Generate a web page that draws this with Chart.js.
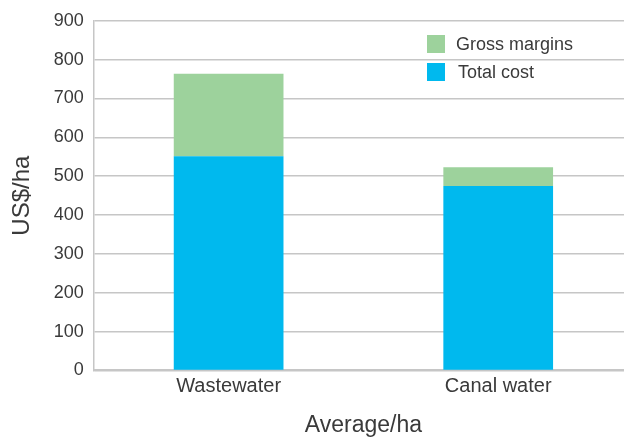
<!DOCTYPE html>
<html>
<head>
<meta charset="utf-8">
<script src="https://cdn.jsdelivr.net/npm/chart.js@4/dist/chart.umd.min.js"></script>
<style>
  html, body { margin: 0; padding: 0; background: #fff; }
  #wrap { width: 624px; height: 437px; overflow: hidden; }
</style>
</head>
<body>
<div id="wrap"><canvas id="cost-chart" width="640" height="440"></canvas></div>
<script>
/**
 * Data
 */
const categories = ['Wastewater', 'Canal water'];
const totalCost = [551, 475];
const grossMargins = [213, 48];
const yTicks = [0, 100, 200, 300, 400, 500, 600, 700, 800, 900];

const FONT = '"Liberation Sans", Arial, sans-serif';
const TEXT = '#3a3a3a';
const GRID = '#c6c6c6';

/**
 * Legend drawn inside the plot, top right, Gross margins above Total cost
 */
const boxLegend = {
    id: 'boxLegend',
    afterDraw(chart) {
        const c = chart.ctx;
        const sets = chart.data.datasets.slice().reverse();
        c.save();
        c.font = '18px ' + FONT;
        c.textBaseline = 'middle';
        sets.forEach((ds, i) => {
            const y = 35 + i * 28;
            c.fillStyle = ds.backgroundColor;
            c.fillRect(427, y, 18, 18);
            c.fillStyle = TEXT;
            c.fillText(ds.label, 456 + (i === 1 ? 2 : 0), y + 10);
        });
        c.restore();
    }
};

const ctx = document.getElementById('cost-chart');
const myChart = new Chart(ctx, {
    type: 'bar',
    data: {
        labels: categories,
        datasets: [
            { label: 'Total cost', data: totalCost, backgroundColor: '#00b9ee' },
            { label: 'Gross margins', data: grossMargins, backgroundColor: '#9dd29c' }
        ]
    },
    options: {
        responsive: false,
        animation: false,
        layout: { padding: { top: 7, right: 7, bottom: 0, left: 0 } },
        datasets: { bar: { categoryPercentage: 0.407, barPercentage: 1 } },
        plugins: {
            legend: { display: false },
            tooltip: { enabled: false }
        },
        scales: {
            x: {
                stacked: true,
                grid: { display: false, drawTicks: false },
                border: { color: GRID, width: 2 },
                ticks: { color: TEXT, font: { family: FONT, size: 20 }, padding: 4 },
                title: {
                    display: true, text: 'Average/ha', color: TEXT,
                    font: { family: FONT, size: 23 }, padding: { top: 9, bottom: 1 }
                }
            },
            y: {
                stacked: true,
                min: 0, max: 900,
                afterBuildTicks: (axis) => { axis.ticks = yTicks.map(v => ({ value: v })); },
                grid: { color: GRID, lineWidth: 1.5, drawTicks: false },
                border: { color: GRID, width: 1.5 },
                ticks: { color: TEXT, font: { family: FONT, size: 18 }, padding: 10 },
                title: {
                    display: true, text: 'US$/ha', color: TEXT,
                    font: { family: FONT, size: 24 }, padding: { top: 8, bottom: 7 }
                }
            }
        }
    },
    plugins: [boxLegend]
});
</script>
</body>
</html>
